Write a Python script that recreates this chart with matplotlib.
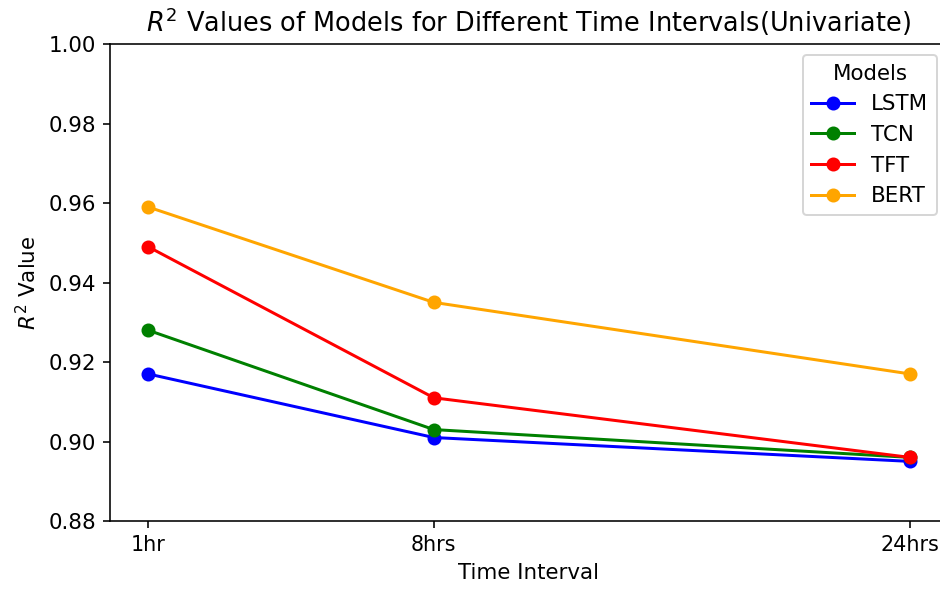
import matplotlib
matplotlib.use("Agg")
import matplotlib.pyplot as plt

intervals = ["1hr", "8hrs", "24hrs"]
interval_pos = [0, 3, 8]

lstm = [0.917, 0.901, 0.895]
tcn = [0.928, 0.903, 0.896]
tft = [0.949, 0.911, 0.896]
bert = [0.959, 0.935, 0.917]

models = ["LSTM", "TCN", "TFT", "BERT"]
colors = ["blue", "green", "red", "orange"]

def main():
    plt.rcParams["font.size"] = 10.7
    fig = plt.figure(figsize=(940 / 144, 590 / 144), dpi=144)
    ax = fig.add_axes([110 / 940, 69 / 590, 838 / 940, 477 / 590])
    for name, vals, c in zip(models, [lstm, tcn, tft, bert], colors):
        ax.plot(interval_pos, vals, marker="o", color=c, label=name)
    ax.set_xticks(interval_pos)
    ax.set_xticklabels(intervals)
    ax.tick_params(axis="x", labelsize=10.3)
    ax.set_ylim(0.88, 1.00)
    ax.spines["right"].set_visible(False)
    ax.set_xlabel("Time Interval")
    ax.set_ylabel("$R^2$ Value")
    ax.set_title("$R^2$ Values of Models for Different Time Intervals(Univariate)",
                 fontsize=12.8)
    ax.legend(title="Models", loc="upper right",
              bbox_to_anchor=(937 / 940, 535 / 590), bbox_transform=fig.transFigure,
              borderaxespad=0)
    fig.savefig("out.png", dpi=144)

if __name__ == "__main__":
    main()
